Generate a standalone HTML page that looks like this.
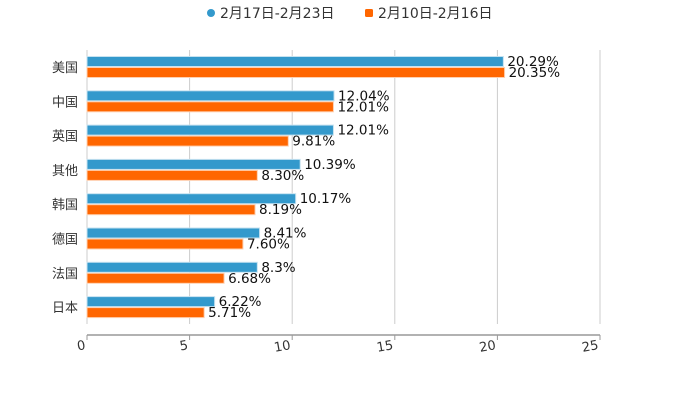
<!DOCTYPE html>
<html><head><meta charset="utf-8"><style>
body{margin:0;background:#fff;}
svg text{font-family:"DejaVu Sans","Noto Sans CJK SC",sans-serif;}
</style></head><body>
<svg id="c" width="700" height="400" xmlns="http://www.w3.org/2000/svg">
<g>
<g><circle cx="211" cy="13" r="4" fill="#3399cc"/><text x="220" y="18" font-size="14" fill="#333">2月17日-2月23日</text></g>
<g><rect x="365" y="9" width="8" height="8" rx="1.5" fill="#ff6600"/><text x="378" y="18" font-size="14" fill="#333">2月10日-2月16日</text></g>
</g>
<g id="plot"></g>
</svg>
<script>
const categories=["美国","中国","英国","其他","韩国","德国","法国","日本"];
const seriesA=[20.29,12.04,12.01,10.39,10.17,8.41,8.3,6.22];
const labelsA=["20.29%","12.04%","12.01%","10.39%","10.17%","8.41%","8.3%","6.22%"];
const seriesB=[20.35,12.01,9.81,8.30,8.19,7.60,6.68,5.71];
const labelsB=["20.35%","12.01%","9.81%","8.30%","8.19%","7.60%","6.68%","5.71%"];
const ticks=[0,5,10,15,20,25];
const NS="http://www.w3.org/2000/svg";
const g=document.getElementById('plot');
const x0=87,x1=600,xmax=25;
const xs=v=>x0+(v/xmax)*(x1-x0);
const yc=i=>67+i*34.3;
function mk(t,a){const e=document.createElementNS(NS,t);for(const k in a)e.setAttribute(k,a[k]);g.appendChild(e);return e;}
ticks.forEach(t=>{
 const l=mk('line',{x1:xs(t),x2:xs(t),y1:50,y2:324,stroke:'#ccc','stroke-width':1});
 
 
 const tk=mk('line',{x1:xs(t),x2:xs(t),y1:335,y2:340,stroke:'#999'});
 
 
 const tx=mk('text',{x:xs(t)-1,y:349,'font-size':13,fill:'#333','text-anchor':'end',transform:`rotate(-10 ${xs(t)-1} 349)`});
 tx.textContent=t;
 
 
});
const ax=mk('line',{x1:x0,x2:x1,y1:335,y2:335,stroke:'#999','stroke-width':1.5});


categories.forEach((c,i)=>{
 const y=yc(i);
 const cl=mk('text',{x:78,y:y+5,'font-size':13,fill:'#333','text-anchor':'end'});
 cl.textContent=c;
 
 
 const a=mk('rect',{x:x0,y:y-10.5,width:xs(seriesA[i])-x0,height:10,fill:'#3399cc',stroke:'#c6e2f0','stroke-width':1});
 
 
 const b=mk('rect',{x:x0,y:y+0.5,width:xs(seriesB[i])-x0,height:10,fill:'#ff6600',stroke:'#ffd0b0','stroke-width':1});
 
 
 const ta=mk('text',{x:xs(seriesA[i])+4,y:y-1,'font-size':13.5,fill:'#111'});
 ta.textContent=labelsA[i];
 
 
 const tb=mk('text',{x:xs(seriesB[i])+4,y:y+10,'font-size':13.5,fill:'#111'});
 tb.textContent=labelsB[i];
 
 
});
</script>
</body></html>
